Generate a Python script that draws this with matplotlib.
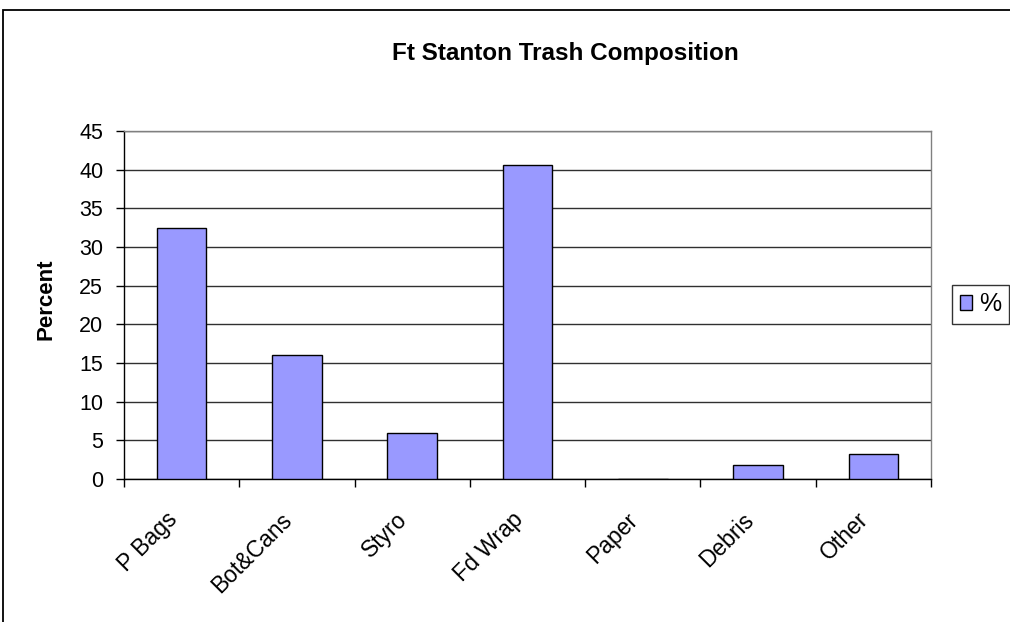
import matplotlib
matplotlib.use("Agg")
import matplotlib.pyplot as plt
from matplotlib.patches import Rectangle, Patch
import numpy as np

categories = ["P Bags", "Bot&Cans", "Styro", "Fd Wrap", "Paper", "Debris", "Other"]
percent = [32.5, 16.0, 6.0, 40.6, 0.0, 1.8, 3.2]
yticks = [0, 5, 10, 15, 20, 25, 30, 35, 40, 45]

plt.rcParams["font.family"] = ["Liberation Sans", "DejaVu Sans"]

W, H = 1010, 622
fig = plt.figure(figsize=(W / 100, H / 100), dpi=100)
fig.patch.set_facecolor("white")

# chart-area frame
fig.add_artist(Rectangle((3 / W, -0.2), 1.3, 1.2 - 10 / H, transform=fig.transFigure,
                         fill=False, edgecolor="black", linewidth=1.3))

left, right, top, bottom = 124, 931, 131, 479
ax = fig.add_axes([left / W, 1 - bottom / H, (right - left) / W, (bottom - top) / H])

x = np.arange(len(categories))
ax.bar(x, percent, width=0.43, color="#9999FF", edgecolor="black", linewidth=1.0, zorder=3)

ax.set_xlim(-0.5, len(categories) - 0.5)
ax.set_ylim(0, 45)
ax.set_yticks(yticks)
ax.set_yticklabels([str(v) for v in yticks], fontsize=15.5)
ax.yaxis.grid(True, color="#303030", linewidth=1.0, zorder=0)
ax.set_axisbelow(True)

ax.set_xticks(x)
ax.set_xticklabels(categories, fontsize=16.5, rotation=45, ha="right", va="top")
ax.set_xticks(np.arange(-0.5, len(categories)), minor=True)
ax.tick_params(axis="x", which="major", length=0, pad=21)
ax.tick_params(axis="x", which="minor", length=6, direction="out", width=1)
ax.tick_params(axis="y", length=6, direction="out", width=1, pad=9)

for side in ("top", "right"):
    ax.spines[side].set_color("#808080")
    ax.spines[side].set_linewidth(1.0)
for side in ("left", "bottom"):
    ax.spines[side].set_color("black")
    ax.spines[side].set_linewidth(1.0)

fig.text(565 / W, 1 - 60 / H, "Ft Stanton Trash Composition", fontsize=17.5,
         fontweight="bold", ha="center", va="baseline")
fig.text(46 / W, 1 - 299 / H, "Percent", fontsize=16, fontweight="bold",
         rotation=90, ha="center", va="center")

handle = Patch(facecolor="#9999FF", edgecolor="black", linewidth=1.0)
leg = fig.legend([handle], ["%"], loc="center left",
                 bbox_to_anchor=(952 / W, 1 - 304 / H), fontsize=18,
                 frameon=True, fancybox=False, shadow=False,
                 handlelength=0.5, handleheight=0.55, handletextpad=0.3,
                 borderpad=0.3, borderaxespad=0)
leg.get_frame().set_edgecolor("black")
leg.get_frame().set_linewidth(1.0)

fig.savefig("out.png", dpi=100)
